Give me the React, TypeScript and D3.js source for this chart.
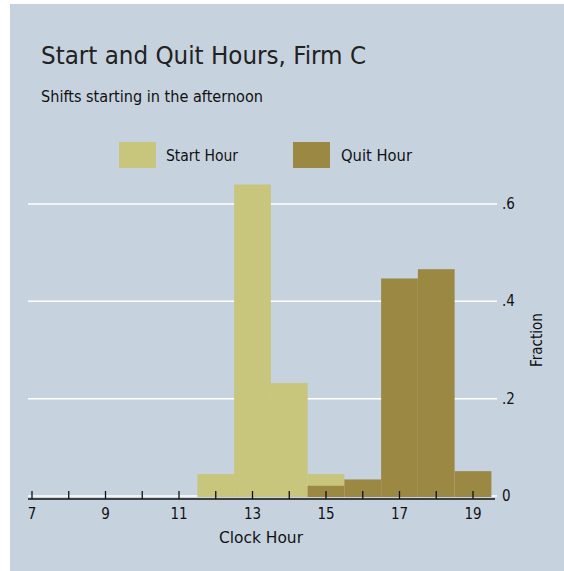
import React from "react";
import * as d3 from "d3";

const startHours = [12, 13, 14, 15];
const startFractions = [0.045, 0.64, 0.232, 0.045];
const quitHours = [15, 16, 17, 18, 19];
const quitFractions = [0.021, 0.034, 0.447, 0.466, 0.051];
const xMinorTicks = [7, 8, 9, 10, 11, 12, 13, 14, 15, 16, 17, 18, 19];
const xLabelTicks = [7, 9, 11, 13, 15, 17, 19];
const yTicks = [0, 0.2, 0.4, 0.6];
const yTickLabels = ["0", ".2", ".4", ".6"];

const W = 564;
const H = 571;
const BG = "#c6d3df";
const START_COLOR = "#c8c57c";
const QUIT_COLOR = "#9a8843";
const FONT = "'DejaVu Sans Condensed', 'Liberation Sans Narrow', 'Open Sans', sans-serif";

export default function App() {
  const x = d3.scaleLinear().domain([7, 19]).range([32, 473]);
  const y = d3.scaleLinear().domain([0, 0.6]).range([496, 204]);
  const plotLeft = 28;
  const plotRight = 496;
  const axisY = 499;

  return (
    <svg width={W} height={H} style={{ position: "absolute", left: 0, top: 0 }}>
      <rect x={0} y={0} width={W} height={H} fill="#ffffff" />
      <rect x={10} y={4} width={W - 10} height={H - 4} fill={BG} />
      <text x={41} y={64} fontFamily={FONT} fontSize={24} fill="#222" textLength={325} lengthAdjust="spacingAndGlyphs">
        Start and Quit Hours, Firm C
      </text>
      <text x={41} y={102} fontFamily={FONT} fontSize={15} fill="#111" textLength={222} lengthAdjust="spacingAndGlyphs">
        Shifts starting in the afternoon
      </text>

      {/* legend */}
      <rect x={119} y={142} width={37} height={26} fill={START_COLOR} />
      <text x={166} y={161} fontFamily={FONT} fontSize={16} fill="#111" textLength={72} lengthAdjust="spacingAndGlyphs">
        Start Hour
      </text>
      <rect x={293} y={142} width={37} height={26} fill={QUIT_COLOR} />
      <text x={341} y={161} fontFamily={FONT} fontSize={16} fill="#111" textLength={71} lengthAdjust="spacingAndGlyphs">
        Quit Hour
      </text>

      {/* gridlines */}
      {yTicks.map((t) => (
        <line key={"g" + t} x1={plotLeft} x2={plotRight + 1} y1={y(t)} y2={y(t)} stroke="#ffffff" strokeWidth={1.5} />
      ))}

      {/* bars */}
      {startHours.map((h, i) => (
        <rect
          key={"s" + h}
          x={x(h - 0.5)}
          y={y(startFractions[i])}
          width={x(h + 0.5) - x(h - 0.5)}
          height={y(0) - y(startFractions[i]) + 1}
          fill={START_COLOR}
        />
      ))}
      {quitHours.map((h, i) => (
        <rect
          key={"q" + h}
          x={x(h - 0.5)}
          y={y(quitFractions[i])}
          width={x(h + 0.5) - x(h - 0.5)}
          height={y(0) - y(quitFractions[i]) + 1}
          fill={QUIT_COLOR}
        />
      ))}

      {/* x axis */}
      <line x1={plotLeft} x2={495} y1={axisY} y2={axisY} stroke="#111" strokeWidth={1.5} />
      {xMinorTicks.map((t) => (
        <line key={"t" + t} x1={x(t)} x2={x(t)} y1={axisY} y2={axisY - 8} stroke="#111" strokeWidth={1.3} />
      ))}
      {xLabelTicks.map((t) => (
        <text key={"l" + t} x={x(t)} y={519} textAnchor="middle" fontFamily={FONT} fontSize={15} fill="#111">
          {t}
        </text>
      ))}
      <text x={261} y={543} textAnchor="middle" fontFamily={FONT} fontSize={15} fill="#111" textLength={84} lengthAdjust="spacingAndGlyphs">
        Clock Hour
      </text>

      {/* y axis labels (right) */}
      {yTicks.map((t, i) => (
        <text key={"y" + t} x={502} y={y(t) + 5} fontFamily={FONT} fontSize={15} fill="#111">
          {yTickLabels[i]}
        </text>
      ))}
      <text
        transform={`translate(542,340) rotate(-90)`}
        textAnchor="middle"
        fontFamily={FONT}
        fontSize={15}
        fill="#111"
      >
        Fraction
      </text>
    </svg>
  );
}
